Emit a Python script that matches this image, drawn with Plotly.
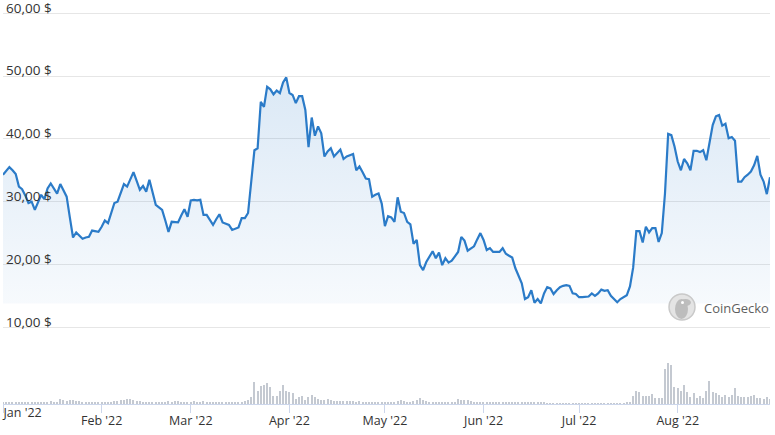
import pandas as pd
import plotly.graph_objects as go

# ---------------- data ----------------
start_date = "2022-01-01"
price_usd = [
    34.3, 34.9, 35.5, 35.0, 34.4, 32.4, 32.0, 31.0, 29.8, 30.0,
    28.7, 29.9, 31.1, 30.4, 32.1, 32.9, 32.2, 31.3, 32.8, 31.8,
    30.8, 27.5, 24.3, 25.1, 24.6, 24.1, 24.3, 24.4, 25.4, 25.3,
    25.2, 26.0, 27.0, 26.6, 28.2, 29.8, 30.0, 31.3, 32.8, 32.4,
    33.6, 34.7, 33.3, 31.9, 32.5, 31.6, 33.5, 31.5, 29.5, 29.1,
    28.7, 27.0, 25.2, 26.8, 26.8, 26.7, 27.8, 28.8, 27.6, 30.2,
    30.3, 30.2, 30.3, 27.9, 27.9, 27.1, 26.3, 27.2, 28.0, 26.7,
    26.5, 26.3, 25.5, 25.7, 25.9, 27.4, 27.4, 28.2, 32.9, 38.2,
    38.5, 45.9, 45.1, 48.3, 47.9, 47.1, 47.7, 47.3, 49.0, 49.8,
    47.3, 47.0, 45.7, 46.8, 46.8, 44.6, 38.7, 43.4, 40.5, 42.0,
    40.9, 37.2, 38.0, 38.5, 37.2, 37.8, 38.3, 36.8, 37.2, 37.4,
    37.6, 35.0, 35.6, 34.7, 33.7, 33.6, 30.8, 31.1, 31.3, 29.7,
    26.1, 27.7, 27.5, 26.8, 30.7, 28.4, 28.2, 26.8, 26.4, 23.3,
    23.9, 19.9, 19.1, 20.4, 21.3, 22.1, 21.0, 21.9, 19.9, 21.0,
    20.3, 20.6, 21.3, 22.0, 24.4, 23.8, 22.2, 22.5, 22.9, 24.0,
    25.0, 23.9, 22.3, 22.6, 22.0, 22.0, 22.0, 22.6, 21.7, 21.4,
    21.1, 19.4, 18.2, 17.0, 14.5, 14.8, 15.9, 13.9, 14.5, 13.8,
    15.4, 16.4, 16.2, 15.3, 15.9, 16.4, 16.6, 16.7, 16.6, 15.4,
    15.3, 14.8, 14.8, 14.8, 14.9, 15.4, 15.0, 15.4, 16.0, 15.8,
    15.9, 15.0, 14.5, 14.0, 14.5, 14.8, 15.1, 16.5, 19.5, 25.3,
    25.3, 23.5, 26.0, 25.1, 25.8, 25.8, 23.6, 25.0, 31.3, 40.8,
    40.6, 38.8, 36.4, 35.0, 36.8, 36.1, 35.0, 38.1, 38.1, 37.9,
    38.2, 36.6, 39.3, 42.2, 43.6, 43.8, 42.1, 42.4, 40.1, 40.3,
    39.7, 33.2, 33.2, 33.9, 34.3, 34.8, 35.8, 37.3, 34.3, 33.2,
    31.2, 33.9,
]
volume = [
    1.5, 1.5, 2, 1.5, 2, 1.5, 2, 2.5, 2, 1.5,
    2, 1.5, 1.5, 2, 2, 3, 2, 2, 5, 4,
    3, 4, 4, 3, 3.5, 2.5, 2, 1.5, 1.5, 2,
    1.5, 1.5, 2, 2, 2, 3, 3, 4, 4, 5,
    5, 4, 3, 3, 2.5, 2.5, 2, 2, 2, 1.5,
    2, 2, 3, 2.5, 3, 3.5, 2.5, 2, 2, 2.5,
    3, 2.5, 2.5, 3, 2.5, 2.5, 2, 2, 2, 2.5,
    2, 2, 1.5, 1.5, 2, 2, 3, 4, 7, 22,
    13, 18, 19, 21, 17, 8, 8, 13, 19, 13,
    12, 11, 5, 7, 8, 4, 7, 9, 7, 5,
    4, 4, 5, 4, 3, 3, 3.5, 3, 3, 3,
    3, 2.5, 3, 2.5, 2.5, 2, 2.5, 2, 2, 2.5,
    2, 2, 2.5, 2, 3, 4, 3, 2.5, 2, 3,
    4, 6, 4, 3, 2, 2, 2, 2, 1.5, 1.5,
    1.5, 1.5, 2, 5, 4.5, 4, 4, 3, 2, 2,
    2, 2.5, 2, 1.5, 1.5, 1.5, 1.5, 1.5, 1.5, 1.5,
    1.5, 1.5, 2, 2, 2.5, 2, 1.5, 1.5, 1.5, 1.5,
    1.5, 1, 1, 1, 1, 1, 1, 1, 1, 1,
    1, 1, 1, 1, 1, 1, 1, 1, 1, 1,
    1, 1, 1, 1, 1, 1, 1.5, 2, 8, 13,
    12, 8, 8, 8, 10, 6, 6, 6, 35, 41,
    39, 17, 16, 13, 19, 12, 7, 11, 6, 8,
    6, 13, 23, 12, 11, 9, 7, 9, 7, 9,
    16, 8, 7, 7, 7, 8, 9, 6, 6, 5,
    7, 5,
]
y_tick_values = [10, 20, 30, 40, 50, 60]
y_tick_labels = ["10,00 $", "20,00 $", "30,00 $", "40,00 $", "50,00 $", "60,00 $"]
x_tick_dates = ["2022-01-01", "2022-02-01", "2022-03-01", "2022-04-01",
                "2022-05-01", "2022-06-01", "2022-07-01", "2022-08-01"]
x_tick_labels = ["Jan '22", "Feb '22", "Mar '22", "Apr '22",
                 "May '22", "Jun '22", "Jul '22", "Aug '22"]
watermark = "CoinGecko"

# ---------------- figure ----------------
dates = pd.date_range(start_date, periods=len(price_usd), freq="D")
base = min(price_usd)

W, H = 775, 435
ML, MR, MT, MB = 3, 5, 11, 31
plot_w = W - ML - MR
plot_h = H - MT - MB
px_per_unit = 6.28
y_top = 60 + 2.3 / px_per_unit
y_bottom = y_top - plot_h / px_per_unit

LINE = "#2b7bc8"
FONT = "Open Sans"
TXT = "#333333"
GRID = "#e6e6e6"
AXIS = "#ccd6eb"

fig = go.Figure()

# baseline for the area fill
fig.add_trace(go.Scatter(
    x=dates, y=[base] * len(dates), mode="lines",
    line=dict(width=0, color="rgba(0,0,0,0)"), hoverinfo="skip", showlegend=False,
))
fig.add_trace(go.Scatter(
    x=dates, y=price_usd, mode="lines", fill="tonexty",
    fillgradient=dict(
        type="vertical",
        colorscale=[[0, "rgba(43,123,200,0.04)"], [1, "rgba(43,123,200,0.17)"]],
    ),
    line=dict(color=LINE, width=2.2), showlegend=False, name="Price",
))

# volume bars
fig.add_trace(go.Bar(
    x=dates, y=volume, xaxis="x2", yaxis="y2",
    marker=dict(color="#c4c9d1", line=dict(width=0)),
    width=0.38 * 86400000, showlegend=False, name="Volume",
))

x_range = [dates[0], dates[-1]]

fig.update_layout(
    width=W, height=H,
    margin=dict(l=ML, r=MR, t=MT, b=MB, autoexpand=False),
    paper_bgcolor="white", plot_bgcolor="white",
    font=dict(family=FONT, size=12, color=TXT),
    xaxis=dict(
        type="date", range=x_range, automargin=False,
        tickvals=x_tick_dates, ticktext=[""] + x_tick_labels[1:],
        ticks="outside", ticklen=8, tickcolor=AXIS, tickwidth=1,
        ticklabelstandoff=-3,
        showline=True, linecolor=AXIS, linewidth=1,
        showgrid=False, zeroline=False,
        tickfont=dict(family=FONT, size=12.5, color=TXT),
    ),
    xaxis2=dict(
        type="date", range=x_range, overlaying="x", anchor="y2", side="bottom",
        automargin=False,
        tickvals=[x_tick_dates[0]], ticktext=[x_tick_labels[0]],
        ticks="outside", ticklen=8, tickcolor="rgba(0,0,0,0)",
        ticklabelposition="outside right", ticklabelstandoff=-3,
        showline=False, showgrid=False, zeroline=False,
        tickfont=dict(family=FONT, size=12.5, color=TXT),
    ),
    yaxis=dict(
        range=[y_bottom, y_top], automargin=False,
        tickvals=y_tick_values, ticktext=y_tick_labels,
        ticklabelposition="inside top", ticklabeloverflow="allow",
        ticklabelshift=4,
        showgrid=True, gridcolor=GRID, gridwidth=1,
        zeroline=False, showline=False, ticks="",
        tickfont=dict(family=FONT, size=13.5, color=TXT),
    ),
    yaxis2=dict(
        range=[0, plot_h], overlaying="y", anchor="x2", automargin=False,
        visible=False, showgrid=False, zeroline=False,
    ),
    bargap=0,
)

# CoinGecko watermark (logo + text), positioned in pixels
def px_x(px):
    return (px - ML) / plot_w

def px_y(py):
    return 1 - (py - MT) / plot_h

cx, cy, r = 682, 307, 13
fig.add_shape(type="circle", xref="paper", yref="paper",
              x0=px_x(cx - r), x1=px_x(cx + r), y0=px_y(cy + r), y1=px_y(cy - r),
              fillcolor="#e4e4e4", line=dict(color="#c9c9c9", width=1.5))
fig.add_shape(type="circle", xref="paper", yref="paper",
              x0=px_x(cx - 7), x1=px_x(cx + 6), y0=px_y(cy + 12), y1=px_y(cy - 8),
              fillcolor="#bdbdbd", line=dict(width=0))
fig.add_shape(type="circle", xref="paper", yref="paper",
              x0=px_x(cx - 2), x1=px_x(cx + 9), y0=px_y(cy - 1), y1=px_y(cy - 8),
              fillcolor="#bdbdbd", line=dict(width=0))
fig.add_shape(type="circle", xref="paper", yref="paper",
              x0=px_x(cx - 1), x1=px_x(cx + 2), y0=px_y(cy - 3), y1=px_y(cy - 6),
              fillcolor="#ffffff", line=dict(width=0))
fig.add_annotation(
    xref="paper", yref="paper", x=px_x(702), y=px_y(308),
    xanchor="left", yanchor="middle", showarrow=False,
    text=watermark, font=dict(family="Open Sans", size=13, color="#5f5f5f"),
)

fig.write_html("out.html")
